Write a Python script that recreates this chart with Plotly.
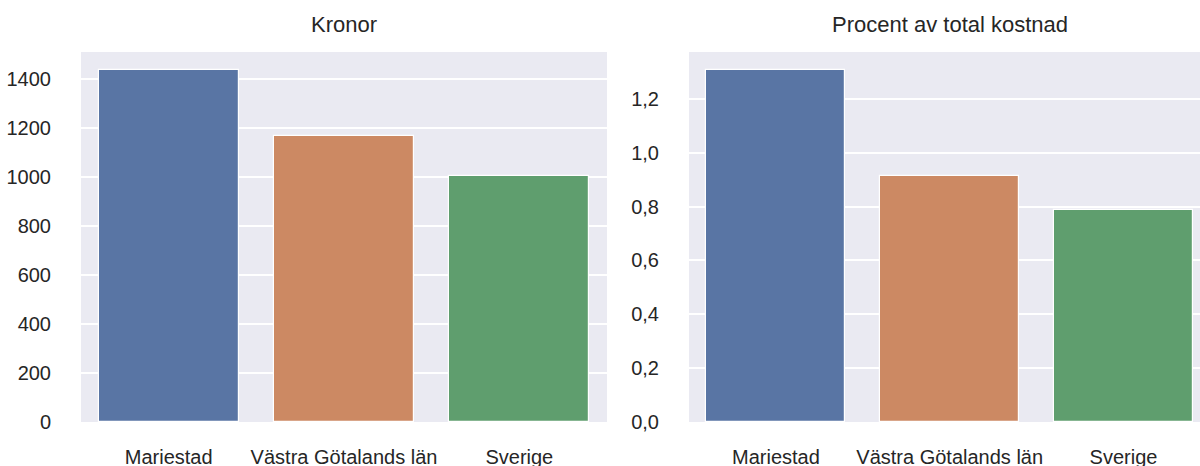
import plotly.graph_objects as go

categories = ["Mariestad", "Västra Götalands län", "Sverige"]
kronor = [1438, 1168, 1002]
procent = [1.309, 0.912, 0.786]
colors = ["#5975a4", "#cc8963", "#5f9e6e"]
titles = ["Kronor", "Procent av total kostnad"]

W, H = 1200, 466
fig = go.Figure()
fig.add_trace(go.Bar(x=categories, y=kronor, marker=dict(color=colors, line=dict(color="white", width=1.2)),
                     width=0.8, xaxis="x", yaxis="y", showlegend=False))
fig.add_trace(go.Bar(x=categories, y=procent, marker=dict(color=colors, line=dict(color="white", width=1.2)),
                     width=0.8, xaxis="x2", yaxis="y2", showlegend=False))

font = dict(family="Liberation Sans, Arial, sans-serif", size=20, color="#262626")
tfont = dict(family="Liberation Sans, Arial, sans-serif", size=22, color="#262626")
ydom = [(H - 422) / H, (H - 52) / H]
common_x = dict(showgrid=False, zeroline=False, showline=False, ticks="outside", ticklen=17,
                tickcolor="rgba(0,0,0,0)", tickfont=font, automargin=False)
common_y = dict(showgrid=True, gridcolor="white", gridwidth=1.6, zeroline=False, showline=False,
                ticks="outside", ticklen=25, tickcolor="rgba(0,0,0,0)", tickfont=font, automargin=False)

fig.update_layout(
    width=W, height=H, margin=dict(l=0, r=0, t=0, b=0),
    paper_bgcolor="white", plot_bgcolor="#EAEAF2",
    separators=", ",
    bargap=0,
    xaxis=dict(domain=[81 / W, 607 / W], anchor="y", range=[-0.5, 2.5], **common_x),
    yaxis=dict(domain=ydom, anchor="x", range=[0, 1438 * 1.05], dtick=200, **common_y),
    xaxis2=dict(domain=[689 / W, 1.0], anchor="y2", range=[-0.5, 2.44], **common_x),
    yaxis2=dict(domain=ydom, anchor="x2", range=[0, 1.309 * 1.05], dtick=0.2, tickformat=".1f", **common_y),
    annotations=[
        dict(text=titles[0], x=344 / W, y=(H - 25) / H, xref="paper", yref="paper", showarrow=False,
             font=tfont, xanchor="center", yanchor="middle"),
        dict(text=titles[1], x=950 / W, y=(H - 25) / H, xref="paper", yref="paper", showarrow=False,
             font=tfont, xanchor="center", yanchor="middle"),
    ],
)
post = (
    "document.documentElement.style.margin='0';"
    "document.documentElement.style.height='466px';"
    "document.documentElement.style.overflow='hidden';"
    "document.body.style.margin='0';"
    "document.body.style.height='466px';"
    "document.body.style.overflow='hidden';"
)
fig.write_html("out.html", config={"displayModeBar": False}, post_script=post)
